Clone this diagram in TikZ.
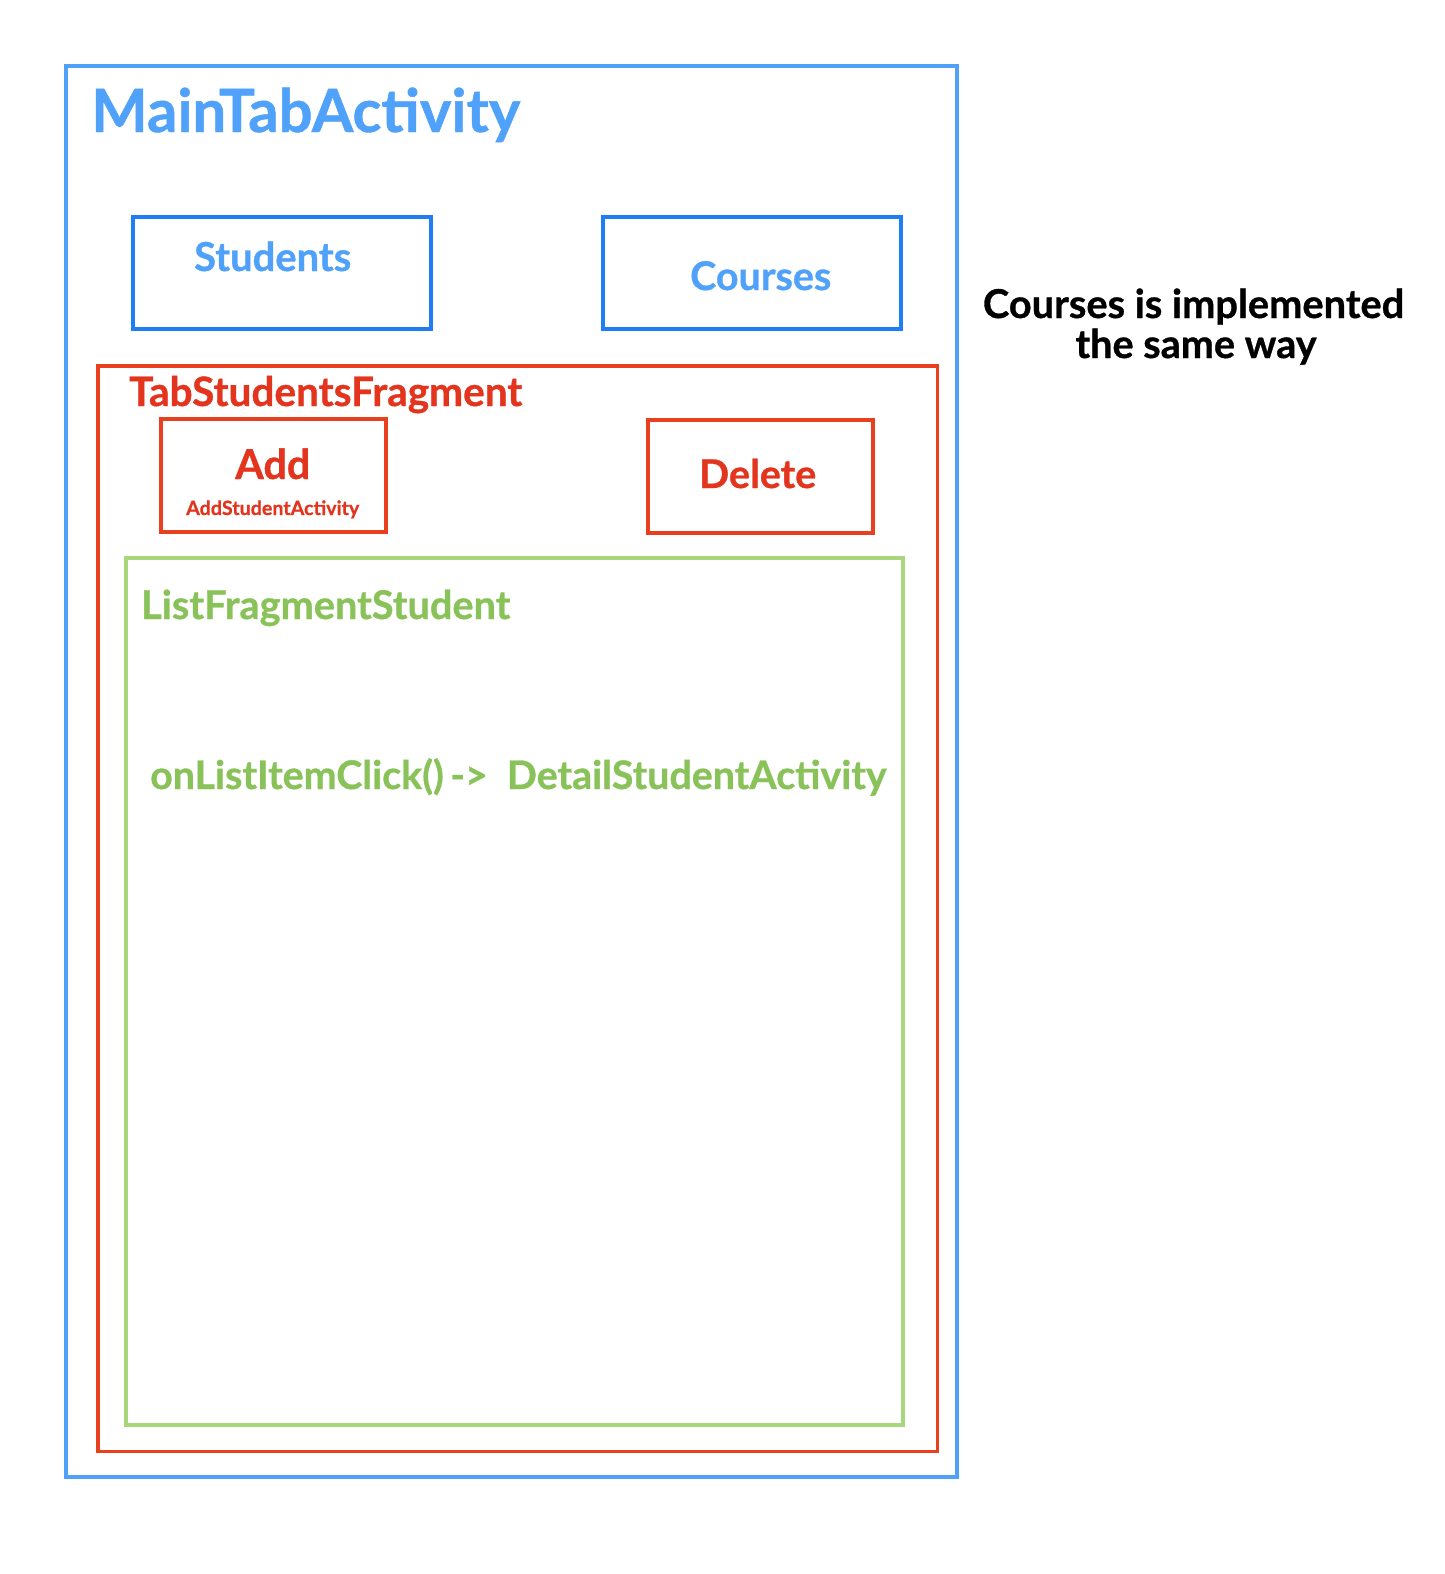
\documentclass[tikz,border=0pt]{standalone}
\usepackage{fontspec}
\setmainfont{Lato}
\newfontfamily\heavyfont{Lato Bold}[FakeBold=0.8]
\usepackage{graphicx}
\definecolor{mblue}{HTML}{4FA1F9}
\definecolor{tblue}{HTML}{1F7EF6}
\definecolor{mred}{HTML}{E8401E}
\definecolor{tred}{HTML}{E3341E}
\definecolor{mgreen}{HTML}{A8D67A}
\definecolor{tgreen}{HTML}{8AC25A}
\newcommand{\fitw}[2]{\resizebox{#1pt}{!}{\heavyfont #2}}
\tikzset{
  outerbox/.style={draw=mblue, line width=4.5pt},
  tabbox/.style={draw=tblue, line width=3.5pt},
  fragbox/.style={draw=mred, line width=3.5pt},
  listbox/.style={draw=mgreen, line width=3.5pt},
  lbl/.style={inner sep=0pt, anchor=base west},
}
\begin{document}
\begin{tikzpicture}[x=1pt,y=-1pt]
\useasboundingbox (0,0) rectangle (1444,1574);
% boxes
\draw[outerbox] (66,66) rectangle (957,1477);
\draw[tabbox] (133,217) rectangle (431,329);
\draw[tabbox] (603,217) rectangle (901,329);
\draw[fragbox] (98,366) rectangle (937.5,1451.5);
\draw[fragbox] (161,419) rectangle (386,532);
\draw[fragbox] (648,420) rectangle (873,533);
\draw[listbox] (126,558) rectangle (903,1425);
% labels
\node[lbl, text=mblue] (main) at (91,132) {\fitw{429}{MainTabActivity}};
\node[lbl, text=mblue] (stud) at (194,271) {\fitw{157}{Students}};
\node[lbl, text=mblue] (cour) at (690,290) {\fitw{141}{Courses}};
\node[lbl, text=tred] (frag) at (129,406) {\fitw{393}{TabStudentsFragment}};
\node[lbl, text=tred] (add) at (235,479) {\fitw{75}{Add}};
\node[lbl, text=tred] (addact) at (186,515) {\fitw{173}{AddStudentActivity}};
\node[lbl, text=tred] (del) at (699,488) {\fitw{117}{Delete}};
\node[lbl, text=tgreen] (list) at (141,619) {\fitw{369}{ListFragmentStudent}};
\node[lbl, text=tgreen] (click) at (150,789) {\fitw{736}{onListItemClick()\,->\ \ DetailStudentActivity}};
\node[inner sep=0pt, anchor=base] (note1) at (1193.5,318) {\fitw{421}{Courses is implemented}};
\node[inner sep=0pt, anchor=base] (note2) at (1196,358) {\fitw{241}{the same way}};
\end{tikzpicture}
\end{document}
